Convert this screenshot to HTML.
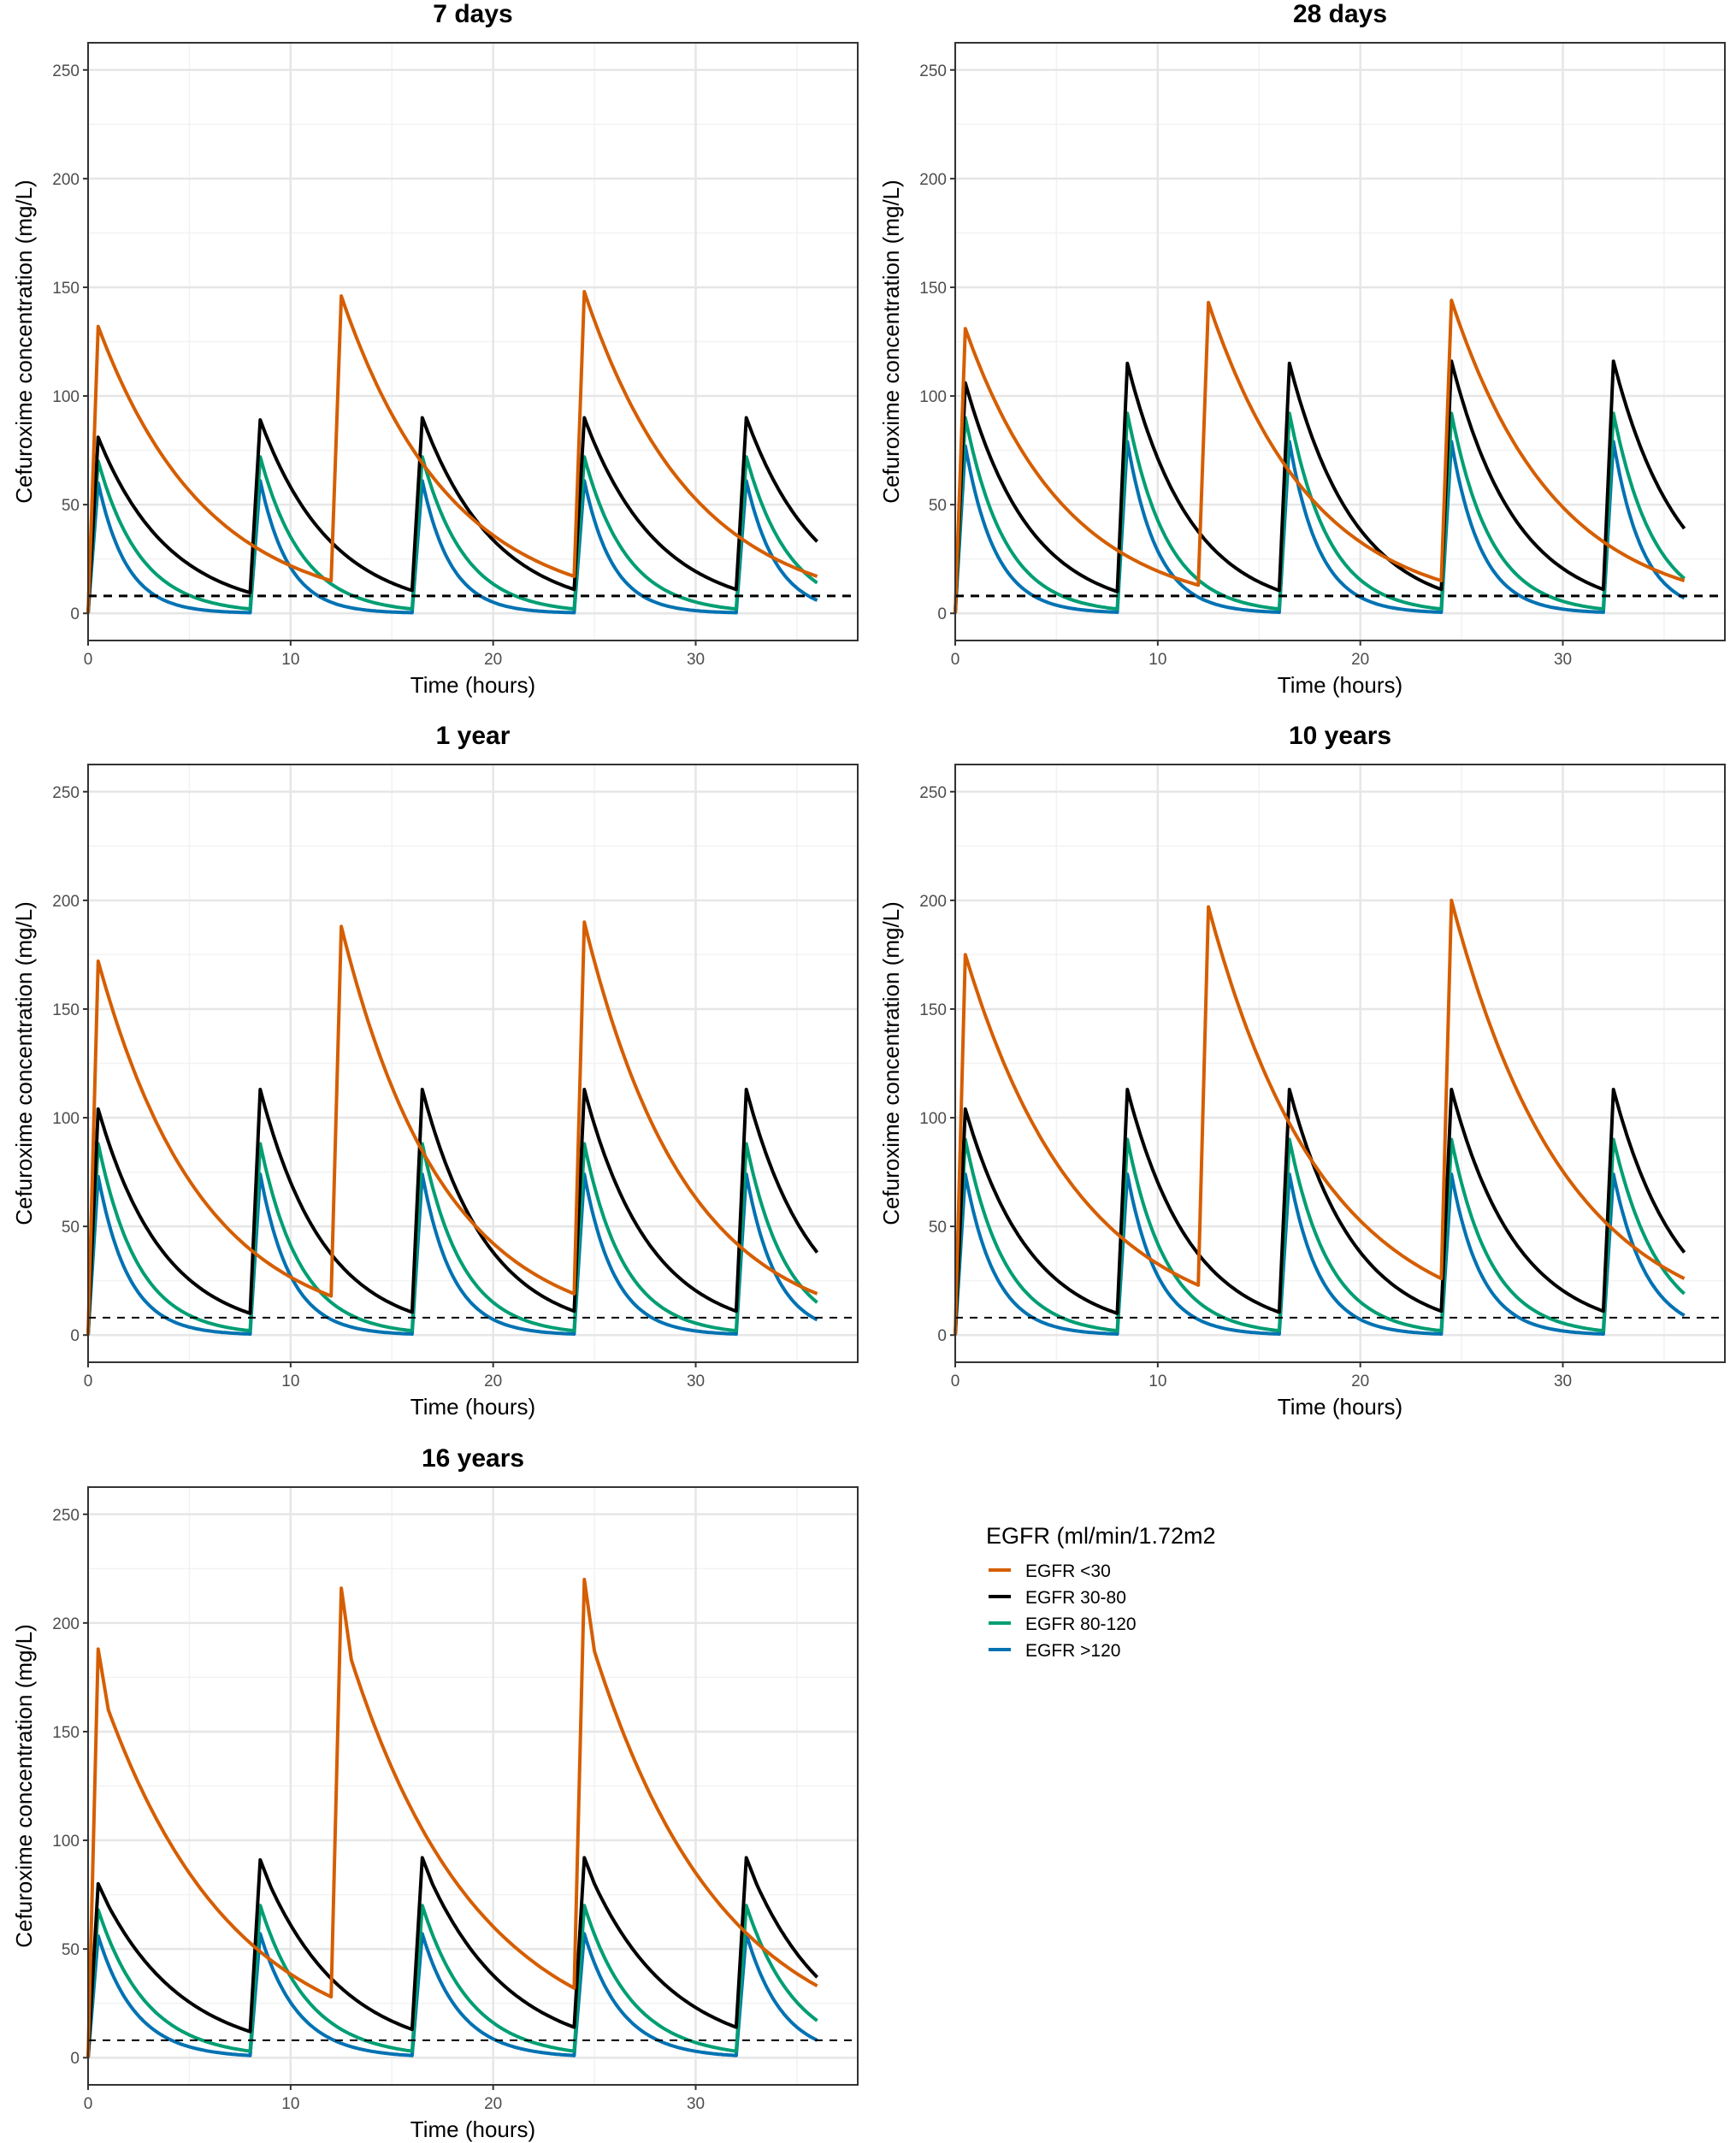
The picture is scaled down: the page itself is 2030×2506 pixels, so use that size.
<!DOCTYPE html>
<html><head><meta charset="utf-8">
<style>
body{margin:0;background:#fff;}
svg{display:block;font-family:"Liberation Sans",Arial,sans-serif;}
</style></head>
<body>
<svg id="fig" width="2030" height="2506" viewBox="0 0 2030 2506" xmlns="http://www.w3.org/2000/svg"></svg>
<script>
// ---- data ----
const panelTitles = ["7 days","28 days","1 year","10 years","16 years"];
const seriesNames = ["EGFR <30","EGFR 30-80","EGFR 80-120","EGFR >120"];
const seriesColors = ["#D55E00","#000000","#009E73","#0072B2"];
const doseTimes8 = [0,8,16,24,32];
const doseTimes12 = [0,12,24];
const endTime = 36;
const mic = 8;
const xTicks = [0,10,20,30];
const yTicks = [0,50,100,150,200,250];
// peaks per dose, troughs (value just before next dose / at end)
const orangePeaks = [[132,146,148],[131,143,144],[172,188,190],[175,197,200],[188,216,220]];
const orangeTroughs = [[15,17,17],[13,15,15],[18,19,19],[23,26,26],[28,32,33]];
const orangeShoulders = [[null,null,null],[null,null,null],[null,null,null],[null,null,null],[160,183,187]];
const blackPeaks = [[81,89,90,90,90],[106,115,115,116,116],[104,113,113,113,113],[104,113,113,113,113],[80,91,92,92,92]];
const blackTroughs = [[9.5,10.5,11,11,33],[10,10.5,11,11,39],[10,10.5,11,11,38],[10,10.5,11,11,38],[12,13,14,14,37]];
const blackShoulders = [[null,null,null,null,null],[null,null,null,null,null],[null,null,null,null,null],[null,null,null,null,null],[70,79,80,80,80]];
const greenPeaks = [[70,72,72,72,72],[90,92,92,92,92],[88,88,88,88,88],[90,90,90,90,90],[68,70,70,70,70]];
const greenTroughs = [[2,2,2,2,14],[2,2,2,2,16],[2,2,2,2,15],[2,2,2,2,19],[3,3,3,3,17]];
const bluePeaks = [[60,61,61,61,61],[77,79,79,79,79],[73,74,74,74,74],[74,74,74,74,74],[56,57,57,57,57]];
const blueTroughs = [[0.3,0.3,0.3,0.3,6],[0.5,0.5,0.5,0.5,7],[0.5,0.5,0.5,0.5,7],[0.5,0.5,0.5,0.5,9],[1,1,1,1,8]];

// ---- layout ----
const NS="http://www.w3.org/2000/svg";
const svg=document.getElementById('fig');
const panelPos=[[103,50],[1117,50],[103,894],[1117,894],[103,1739]];
const PW=900, PH=699, XMIN=0, XMAX=38, YMIN=-12.5, YMAX=262.5;
function mk(tag,attrs,parent){const e=document.createElementNS(NS,tag);for(const k in attrs)e.setAttribute(k,attrs[k]);(parent||svg).appendChild(e);return e;}

function buildCurve(doses,peaks,troughs,shoulders){
  const pts=[[0,0]];
  for(let i=0;i<doses.length;i++){
    const t0=doses[i], tp=t0+0.5, tn=(i+1<doses.length)?doses[i+1]:endTime;
    const P=peaks[i], T=troughs[i];
    pts.push([tp,P]);
    const S=shoulders?shoulders[i]:null;
    let ts=tp, Vs=P;
    if(S!=null){ts=tp+0.5;Vs=S;pts.push([ts,S]);}
    const n=60;
    for(let k=1;k<=n;k++){const f=k/n;pts.push([ts+(tn-ts)*f, Vs*Math.pow(T/Vs,f)]);}
  }
  return pts;
}

panelTitles.forEach((title,p)=>{
  const [L,Tp]=panelPos[p];
  const g=mk('g',{});
  
  
  const sx=v=>L+(v-XMIN)/(XMAX-XMIN)*PW;
  const sy=v=>Tp+PH-(v-YMIN)/(YMAX-YMIN)*PH;
  [5,15,25,35].forEach(v=>mk('line',{x1:sx(v),x2:sx(v),y1:Tp,y2:Tp+PH,stroke:'#f2f2f2','stroke-width':1.5},g));
  [25,75,125,175,225].forEach(v=>mk('line',{x1:L,x2:L+PW,y1:sy(v),y2:sy(v),stroke:'#f2f2f2','stroke-width':1.5},g));
  xTicks.forEach(v=>mk('line',{x1:sx(v),x2:sx(v),y1:Tp,y2:Tp+PH,stroke:'#e6e6e6','stroke-width':2.5},g));
  yTicks.forEach(v=>mk('line',{x1:L,x2:L+PW,y1:sy(v),y2:sy(v),stroke:'#e6e6e6','stroke-width':2.5},g));
  const curves=[
    buildCurve(doseTimes12,orangePeaks[p],orangeTroughs[p],orangeShoulders[p]),
    buildCurve(doseTimes8,blackPeaks[p],blackTroughs[p],blackShoulders[p]),
    buildCurve(doseTimes8,greenPeaks[p],greenTroughs[p],null),
    buildCurve(doseTimes8,bluePeaks[p],blueTroughs[p],null)];
  [3,2,1,0].forEach(s=>{
    const d=curves[s].map((q,i)=>(i?'L':'M')+sx(q[0]).toFixed(1)+','+sy(q[1]).toFixed(1)).join('');
    const path=mk('path',{d:d,fill:'none',stroke:seriesColors[s],'stroke-width':4,'stroke-linejoin':'round'},g);
    
    
  });
  const dl=mk('line',{x1:L,x2:L+PW,y1:sy(mic),y2:sy(mic),stroke:'#000','stroke-width':p<2?3:2,'stroke-dasharray':p<2?'10,8':'9,8'},g);
  
  
  mk('rect',{x:L,y:Tp,width:PW,height:PH,fill:'none',stroke:'#333','stroke-width':2},g);
  xTicks.forEach(v=>{
    mk('line',{x1:sx(v),x2:sx(v),y1:Tp+PH,y2:Tp+PH+6,stroke:'#333','stroke-width':2},g);
    const t=mk('text',{x:sx(v),y:Tp+PH+28,'text-anchor':'middle','font-size':19,fill:'#4d4d4d'},g);t.textContent=v;
    
  });
  yTicks.forEach(v=>{
    mk('line',{x1:L-6,x2:L,y1:sy(v),y2:sy(v),stroke:'#333','stroke-width':2},g);
    const t=mk('text',{x:L-10,y:sy(v)+7,'text-anchor':'end','font-size':19,fill:'#4d4d4d'},g);t.textContent=v;
    
  });
  const xt=mk('text',{x:L+PW/2,y:Tp+PH+61,'text-anchor':'middle','font-size':26,fill:'#000'},g);
  xt.textContent='Time (hours)';
  
  const yt=mk('text',{x:0,y:0,'text-anchor':'middle','font-size':26,fill:'#000',transform:`translate(${L-66},${Tp+PH/2}) rotate(-90)`},g);
  yt.textContent='Cefuroxime concentration (mg/L)';
  
  const tt=mk('text',{x:L+PW/2,y:Tp-24,'text-anchor':'middle','font-size':30,'font-weight':'bold',fill:'#000'},g);
  tt.textContent=title;
  
});

const lg=mk('g',{});


const lt=mk('text',{x:1153,y:1805,'font-size':27,fill:'#000'},lg);
lt.textContent='EGFR (ml/min/1.72m2';

seriesNames.forEach((n,i)=>{
  const y=1836+i*31;
  const e=mk('g',{},lg);
  
  
  mk('line',{x1:1156,x2:1182,y1:y,y2:y,stroke:seriesColors[i],'stroke-width':4},e);
  const t=mk('text',{x:1199,y:y+8,'font-size':21,fill:'#000'},e);t.textContent=n;
});
</script>
</body></html>
